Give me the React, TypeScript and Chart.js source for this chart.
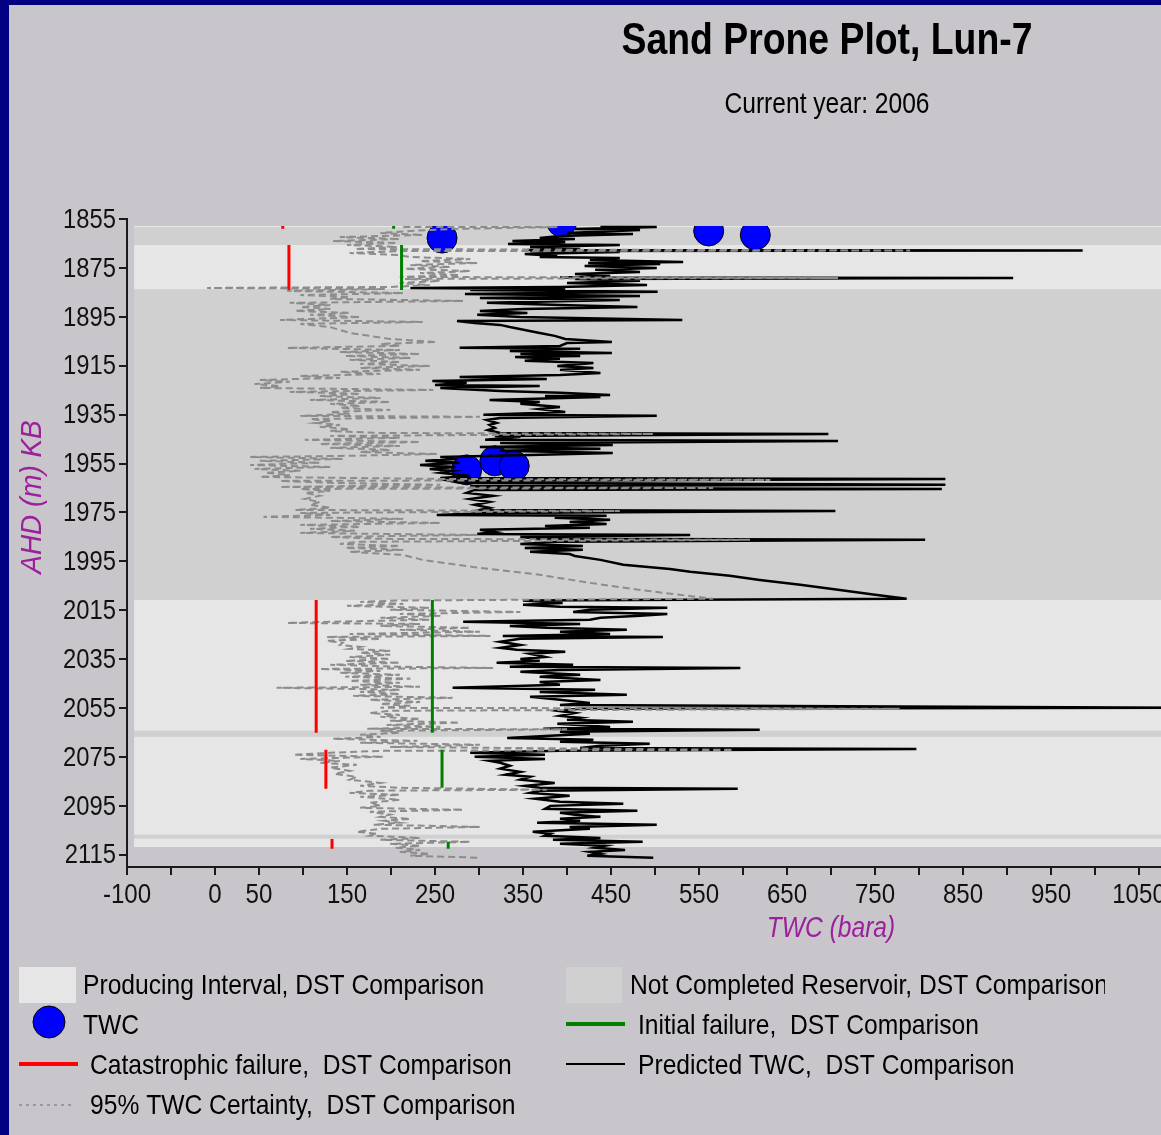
import React, { useEffect, useRef } from "react";
import { Chart, registerables } from "chart.js";

Chart.register(...registerables);

// ---------- text ----------
const chartTitle = "Sand Prone Plot, Lun-7";
const chartSubtitle = "Current year: 2006";
const xAxisTitle = "TWC (bara)";
const yAxisTitle = "AHD (m) KB";
const labelProducing = "Producing Interval, DST Comparison";
const labelNotCompleted = "Not Completed Reservoir, DST Comparison";
const labelTWC = "TWC";
const labelInitial = "Initial failure,  DST Comparison";
const labelCatastrophic = "Catastrophic failure,  DST Comparison";
const labelPredicted = "Predicted TWC,  DST Comparison";
const labelCertainty = "95% TWC Certainty,  DST Comparison";

// ---------- ticks ----------
const xTickValues = [-100, -50, 0, 50, 100, 150, 200, 250, 300, 350, 400, 450, 500, 550, 600, 650, 700, 750, 800, 850, 900, 950, 1000, 1050, 1100, 1150, 1200, 1250, 1300, 1350, 1400, 1450, 1500];
const xLabelValues = [-100, 0, 50, 150, 250, 350, 450, 550, 650, 750, 850, 950, 1050, 1150, 1250, 1350, 1450];
const yTickValues = [1855, 1875, 1895, 1915, 1935, 1955, 1975, 1995, 2015, 2035, 2055, 2075, 2095, 2115];

// ---------- zones (depth, m) ----------
const producingTop = [1857.9, 1865.6, 2010.8, 2066.7, 2108.3];
const producingBase = [1858.4, 1883.7, 2064.3, 2106.8, 2111.8];
const notCompletedTop = [1858.4, 1883.7, 2064.3, 2106.8];
const notCompletedBase = [1865.6, 2010.8, 2066.7, 2108.3];
const zoneTWCFrom = -92;
const zoneTWCTo = 1500;

// ---------- failure limits ----------
const catastrophicTWC = [77, 84, 115, 126, 133];
const catastrophicTop = [1857.9, 1865.6, 2010.8, 2072.1, 2108.5];
const catastrophicBase = [1859.0, 1884.0, 2065.1, 2088.0, 2112.5];
const initialTWC = [203, 212, 247, 258, 265];
const initialTop = [1857.9, 1865.6, 2010.8, 2072.1, 2109.7];
const initialBase = [1859.0, 1884.0, 2065.1, 2087.6, 2112.5];

// ---------- measured TWC ----------
const twcDepth = [1862.8, 1856.2, 1859.9, 1861.5, 1957.6, 1953.9, 1956.0];
const twcValue = [258, 394, 561, 614, 286, 318, 340];

// ---------- predicted TWC ----------
const predDepth = [
  1858.3, 1858.3, 1859.1, 1859.5, 1860.7, 1861.1, 1862.0, 1862.8, 1863.2, 1864.0,
  1864.4, 1865.2, 1865.6, 1866.4, 1867.3, 1867.7, 1867.9, 1868.1, 1868.5, 1869.3,
  1870.1, 1870.5, 1870.9, 1871.8, 1872.6, 1873.0, 1873.4, 1874.2, 1875.0, 1875.8,
  1876.7, 1877.5, 1878.3, 1878.9, 1879.1, 1879.5, 1880.3, 1881.2, 1882.0, 1882.8,
  1883.2, 1883.6, 1884.0, 1884.8, 1885.7, 1886.5, 1887.3, 1888.1, 1889.3, 1890.2,
  1891.0, 1891.8, 1892.6, 1893.4, 1894.2, 1895.1, 1896.3, 1896.7, 1897.5, 1898.3,
  1899.2, 1900.4, 1901.6, 1902.8, 1904.1, 1905.3, 1905.7, 1906.9, 1907.7, 1908.1,
  1909.0, 1909.8, 1910.2, 1911.0, 1911.4, 1912.2, 1913.0, 1913.9, 1915.1, 1915.9,
  1916.7, 1918.0, 1918.8, 1919.6, 1920.4, 1921.2, 1922.0, 1922.9, 1923.3, 1924.1,
  1925.3, 1926.1, 1927.0, 1927.4, 1927.8, 1929.0, 1929.8, 1930.6, 1931.9, 1932.7,
  1933.9, 1935.1, 1935.5, 1936.4, 1937.2, 1938.4, 1939.2, 1940.4, 1941.3, 1942.5,
  1942.9, 1943.7, 1944.1, 1945.3, 1945.8, 1946.6, 1947.4, 1948.2, 1949.0, 1949.8,
  1950.7, 1951.5, 1952.3, 1953.1, 1953.9, 1954.7, 1955.6, 1956.4, 1957.2, 1958.0,
  1958.8, 1960.1, 1960.9, 1961.3, 1962.1, 1962.9, 1963.7, 1964.2, 1965.0, 1965.4,
  1965.8, 1967.0, 1968.2, 1969.5, 1970.7, 1971.9, 1973.1, 1974.0, 1974.4, 1975.2,
  1976.0, 1976.4, 1977.2, 1978.0, 1978.9, 1979.7, 1980.5, 1981.3, 1982.1, 1983.0,
  1983.8, 1984.2, 1985.0, 1985.8, 1986.2, 1987.0, 1987.9, 1988.7, 1989.5, 1990.3,
  1991.1, 1992.0, 1992.8, 1994.4, 1996.4, 1998.1, 1999.3, 2000.9, 2002.6, 2004.6,
  2006.7, 2008.7, 2010.3, 2011.0, 2012.0, 2012.8, 2013.6, 2014.0, 2014.8, 2015.7,
  2016.5, 2017.3, 2018.1, 2018.9, 2019.7, 2020.6, 2021.4, 2022.2, 2023.0, 2023.8,
  2024.7, 2025.5, 2025.9, 2026.7, 2027.9, 2029.2, 2030.4, 2031.2, 2032.0, 2032.8,
  2034.1, 2034.9, 2035.7, 2036.5, 2037.3, 2038.1, 2038.6, 2039.4, 2040.2, 2041.4,
  2042.2, 2043.5, 2044.3, 2045.5, 2046.7, 2047.5, 2048.4, 2049.6, 2050.4, 2051.6,
  2052.9, 2053.7, 2054.9, 2055.3, 2056.1, 2057.0, 2058.2, 2059.0, 2059.8, 2060.6,
  2061.4, 2062.7, 2063.5, 2063.9, 2064.7, 2065.5, 2066.4, 2067.2, 2068.0, 2068.8,
  2069.6, 2070.4, 2071.3, 2071.7, 2072.5, 2073.3, 2074.1, 2074.9, 2075.8, 2076.6,
  2077.4, 2078.6, 2079.8, 2081.1, 2082.3, 2083.1, 2084.3, 2085.6, 2086.8, 2087.6,
  2088.0, 2088.8, 2089.7, 2090.9, 2092.1, 2093.3, 2094.1, 2095.0, 2096.2, 2097.0,
  2097.8, 2098.6, 2099.5, 2100.3, 2101.1, 2101.9, 2102.7, 2103.6, 2104.4, 2105.6,
  2106.4, 2107.2, 2108.1, 2108.9, 2109.7, 2110.5, 2111.3, 2112.1, 2113.0, 2113.8,
  2114.6, 2115.4, 2116.2,
];
const predTWC = [
  438, 502, 409, 483, 400, 475, 392, 369, 409, 338,
  398, 333, 460, 358, 415, 355, 986, 358, 460, 352,
  389, 369, 460, 426, 532, 424, 506, 420, 502, 432,
  483, 409, 449, 392, 907, 409, 483, 400, 491, 392,
  222, 398, 290, 503, 284, 483, 301, 460, 309, 392,
  480, 350, 301, 355, 298, 347, 531, 275, 295, 324,
  335, 352, 369, 386, 398, 451, 400, 392, 278, 415,
  335, 451, 347, 415, 341, 392, 352, 430, 389, 430,
  392, 438, 392, 278, 377, 247, 286, 250, 369, 256,
  324, 392, 449, 375, 438, 312, 369, 347, 392, 369,
  398, 305, 502, 324, 309, 320, 312, 318, 310, 324,
  697, 318, 347, 307, 708, 324, 452, 301, 438, 324,
  452, 358, 256, 275, 239, 278, 233, 273, 244, 270,
  256, 290, 256, 830, 267, 278, 830, 290, 324, 826,
  295, 286, 316, 290, 312, 295, 312, 301, 705, 312,
  252, 445, 386, 449, 403, 445, 375, 426, 301, 318,
  298, 540, 347, 369, 807, 392, 347, 418, 352, 418,
  358, 403, 409, 438, 464, 517, 540, 585, 619, 665,
  710, 750, 786, 350, 395, 350, 392, 514, 426, 407,
  514, 483, 438, 426, 282, 415, 335, 377, 468, 392,
  449, 327, 509, 347, 324, 347, 324, 343, 398, 358,
  375, 347, 369, 320, 407, 335, 597, 392, 347, 415,
  369, 438, 369, 392, 270, 432, 369, 468, 358, 392,
  426, 392, 1100, 415, 389, 409, 392, 415, 400, 475,
  389, 449, 373, 619, 392, 426, 375, 332, 430, 392,
  494, 438, 415, 797, 392, 290, 375, 295, 375, 312,
  324, 335, 324, 347, 330, 358, 347, 386, 352, 369,
  594, 369, 358, 403, 364, 392, 464, 381, 375, 480,
  392, 409, 438, 392, 415, 366, 502, 403, 426, 361,
  381, 375, 438, 384, 486, 392, 443, 432, 466, 426,
  438, 423, 498,
];

// ---------- 95% TWC certainty ----------
const certDepth = [
  1858.3, 1858.3, 1859.1, 1859.9, 1860.7, 1861.5, 1862.4, 1863.2, 1864.0, 1864.8,
  1865.6, 1866.4, 1867.3, 1867.9, 1868.1, 1868.9, 1869.7, 1870.5, 1871.4, 1872.2,
  1873.0, 1873.8, 1874.6, 1875.4, 1876.3, 1877.1, 1877.9, 1878.7, 1879.1, 1879.5,
  1880.3, 1881.2, 1882.0, 1882.8, 1883.2, 1883.6, 1884.4, 1885.3, 1886.1, 1886.9,
  1887.7, 1888.5, 1889.3, 1890.2, 1891.0, 1891.8, 1892.6, 1893.4, 1894.2, 1895.1,
  1896.3, 1897.1, 1897.9, 1899.2, 1900.4, 1901.6, 1902.8, 1904.1, 1905.3, 1906.1,
  1906.9, 1907.7, 1908.6, 1909.4, 1910.2, 1911.0, 1911.8, 1912.6, 1913.5, 1914.3,
  1915.1, 1915.9, 1916.7, 1917.5, 1918.4, 1919.2, 1920.0, 1920.8, 1921.6, 1922.5,
  1923.3, 1924.1, 1924.9, 1925.7, 1926.5, 1927.4, 1928.2, 1929.0, 1929.8, 1930.6,
  1931.4, 1932.3, 1933.1, 1933.9, 1934.7, 1935.5, 1935.9, 1936.8, 1937.6, 1938.4,
  1939.2, 1940.0, 1940.9, 1941.7, 1942.5, 1942.9, 1943.7, 1944.5, 1945.3, 1946.2,
  1947.0, 1947.8, 1948.6, 1949.4, 1950.3, 1951.1, 1951.9, 1952.3, 1953.1, 1953.9,
  1954.7, 1955.6, 1956.4, 1957.2, 1958.0, 1958.8, 1959.7, 1960.5, 1961.3, 1961.7,
  1962.1, 1962.9, 1963.7, 1964.6, 1965.0, 1965.4, 1966.2, 1967.0, 1968.2, 1969.5,
  1970.7, 1971.9, 1973.1, 1974.0, 1974.4, 1975.2, 1976.0, 1976.8, 1977.6, 1978.5,
  1979.3, 1980.1, 1980.9, 1981.7, 1982.5, 1983.4, 1984.2, 1985.0, 1985.8, 1986.2,
  1987.0, 1987.9, 1988.7, 1989.5, 1990.3, 1991.1, 1992.4, 1994.4, 1997.3, 2000.5,
  2003.8, 2006.7, 2008.7, 2010.3, 2011.0, 2011.6, 2012.4, 2013.2, 2014.0, 2014.8,
  2015.7, 2016.5, 2017.3, 2018.1, 2018.9, 2019.7, 2020.2, 2020.6, 2021.4, 2022.2,
  2023.0, 2023.8, 2024.7, 2025.5, 2025.9, 2026.7, 2027.5, 2028.3, 2029.2, 2030.0,
  2030.8, 2031.6, 2032.4, 2033.2, 2034.1, 2034.9, 2035.7, 2036.5, 2037.3, 2038.1,
  2038.6, 2039.0, 2039.8, 2040.6, 2041.4, 2042.2, 2043.0, 2043.9, 2044.7, 2045.5,
  2046.3, 2046.7, 2047.5, 2048.4, 2049.2, 2050.0, 2050.8, 2051.6, 2052.5, 2053.3,
  2054.1, 2054.9, 2055.3, 2056.1, 2057.0, 2057.8, 2058.6, 2059.4, 2060.2, 2061.0,
  2061.9, 2062.7, 2063.5, 2063.7, 2064.3, 2065.1, 2065.9, 2066.8, 2067.6, 2068.4,
  2069.2, 2070.0, 2070.9, 2072.1, 2072.5, 2073.3, 2074.1, 2074.9, 2075.8, 2076.6,
  2077.4, 2078.2, 2079.4, 2080.7, 2081.9, 2083.1, 2084.3, 2085.6, 2086.8, 2087.6,
  2088.4, 2088.8, 2089.7, 2090.5, 2091.3, 2092.5, 2093.7, 2095.0, 2095.8, 2096.6,
  2097.4, 2098.6, 2099.5, 2100.3, 2101.1, 2101.9, 2102.7, 2103.6, 2104.4, 2105.6,
  2106.4, 2107.2, 2108.1, 2108.9, 2109.7, 2110.5, 2111.3, 2112.1, 2113.0, 2113.8,
  2114.6, 2115.4, 2116.2,
];
const certTWC = [
  214, 389, 267, 222, 188, 236, 142, 210, 134, 207,
  150, 207, 159, 790, 214, 153, 207, 222, 290, 233,
  298, 222, 267, 216, 290, 233, 278, 210, 708, 216,
  256, 210, 244, 199, -9, 193, 82, 214, 97, 153,
  131, 282, 85, 131, 97, 131, 91, 153, 108, 165,
  74, 236, 97, 131, 142, 153, 176, 199, 252, 188,
  210, 82, 210, 142, 233, 148, 222, 153, 210, 165,
  244, 165, 233, 142, 188, 97, 142, 51, 85, 45,
  74, 51, 248, 85, 165, 119, 188, 108, 199, 131,
  165, 142, 199, 131, 153, 97, 301, 108, 131, 114,
  142, 119, 153, 131, 188, 498, 131, 210, 102, 233,
  119, 210, 131, 199, 165, 252, 142, 40, 145, 51,
  119, 40, 131, 45, 97, 57, 85, 51, 259, 631,
  74, 131, 256, 74, 566, 97, 131, 102, 119, 102,
  119, 108, 131, 91, 460, 97, 131, 55, 214, 131,
  256, 97, 165, 108, 159, 97, 298, 131, 188, 608,
  165, 142, 210, 148, 214, 153, 214, 236, 293, 369,
  426, 483, 528, 566, 207, 165, 214, 150, 244, 199,
  347, 210, 256, 188, 244, 131, 82, 233, 188, 290,
  210, 301, 153, 313, 127, 188, 127, 145, 142, 165,
  153, 199, 165, 199, 153, 199, 148, 210, 131, 210,
  316, 119, 188, 142, 210, 148, 222, 153, 210, 165,
  233, 70, 210, 165, 210, 157, 270, 176, 233, 188,
  222, 188, 778, 199, 176, 210, 188, 233, 199, 278,
  195, 256, 173, 400, 188, 210, 165, 188, 134, 230,
  165, 301, 199, 589, 188, 131, 89, 191, 97, 142,
  119, 161, 131, 153, 136, 161, 153, 188, 165, 210,
  377, 176, 153, 210, 165, 210, 176, 188, 165, 282,
  176, 199, 188, 222, 193, 210, 180, 301, 188, 161,
  184, 176, 233, 188, 290, 199, 233, 205, 233, 210,
  244, 222, 301,
];

// ---------- styles ----------
const SANS = '"Liberation Sans", Arial, sans-serif';
const PURPLE = "#9c1f9c";
const NAVY = "#000080";
const PANEL = "#c8c6ca";
const PRODUCING = "#e6e6e6";
const NOT_COMPLETED = "#d0d0d0";
const RED = "#ff0000";
const GREEN = "#008000";
const BLUE = "#0000ff";
const GREY_LINE = "#8c8c8c";
const AXIS = "#1a1a1a";

const CANVAS_W = 1636;
const CANVAS_H = 1130;

const pairs = (xs: number[], ys: number[]) => xs.map((x, i) => ({ x, y: ys[i] }));
const segments = (xs: number[], tops: number[], bases: number[]) =>
  xs.flatMap((x, i) => [
    { x, y: tops[i] },
    { x, y: bases[i] },
    { x: null as any, y: null as any },
  ]);
const zone = (top: number, base: number) => [
  { x: zoneTWCFrom, y: top },
  { x: zoneTWCTo, y: top },
  { x: zoneTWCTo, y: base },
  { x: zoneTWCFrom, y: base },
  { x: zoneTWCFrom, y: top },
];

const zoneDataset = (top: number, base: number, color: string, label: string) => ({
  label,
  data: zone(top, base),
  fill: "shape",
  backgroundColor: color,
  borderColor: "rgba(0,0,0,0)",
  borderWidth: 0,
  pointRadius: 0,
  order: 20,
});

// condensed text helper (the source uses a narrow face)
function drawText(
  ctx: CanvasRenderingContext2D,
  text: string,
  x: number,
  y: number,
  font: string,
  color: string,
  align: CanvasTextAlign,
  sx: number,
  rotate = 0
) {
  ctx.save();
  ctx.translate(x, y);
  if (rotate) ctx.rotate(rotate);
  ctx.scale(sx, 1);
  ctx.font = font;
  ctx.fillStyle = color;
  ctx.textAlign = align;
  ctx.textBaseline = "middle";
  ctx.fillText(text, 0, 0);
  ctx.restore();
}

const textPlugin = {
  id: "sandTexts",
  afterDraw(chart: any) {
    const ctx = chart.ctx as CanvasRenderingContext2D;
    const area = chart.chartArea;
    const xs = chart.scales.x;
    const ys = chart.scales.y;
    const cx = chart.width / 2;

    drawText(ctx, chartTitle, cx, 37, `bold 45px ${SANS}`, "#000", "center", 0.83);
    drawText(ctx, chartSubtitle, cx, 100, `30px ${SANS}`, "#000", "center", 0.82);

    for (const v of yTickValues) {
      drawText(ctx, String(v), area.left - 11, ys.getPixelForValue(v) + 1, `28px ${SANS}`, "#111", "right", 0.85);
    }
    for (const v of xLabelValues) {
      drawText(ctx, String(v), xs.getPixelForValue(v), area.bottom + 28, `28px ${SANS}`, "#111", "center", 0.86);
    }
    drawText(ctx, xAxisTitle, (area.left + area.right) / 2, 924, `italic 30px ${SANS}`, PURPLE, "center", 0.82);
    drawText(ctx, yAxisTitle, 24, 492, `italic 30px ${SANS}`, PURPLE, "center", 0.93, -Math.PI / 2);
  },
};

const legendPlugin = {
  id: "sandLegend",
  afterDraw(chart: any) {
    const ctx = chart.ctx as CanvasRenderingContext2D;
    const LF = `28px ${SANS}`;
    const LS = 0.88;
    ctx.save();

    const hline = (x0: number, x1: number, y: number, color: string, w: number, dash: number[] = []) => {
      ctx.save();
      ctx.beginPath();
      ctx.setLineDash(dash);
      ctx.strokeStyle = color;
      ctx.lineWidth = w;
      ctx.moveTo(x0, y);
      ctx.lineTo(x1, y);
      ctx.stroke();
      ctx.restore();
    };

    // row 1
    ctx.fillStyle = PRODUCING;
    ctx.fillRect(10, 962, 57, 36);
    ctx.fillStyle = NOT_COMPLETED;
    ctx.fillRect(557, 962, 56, 36);
    drawText(ctx, labelProducing, 74, 981, LF, "#000", "left", LS);
    ctx.save();
    ctx.beginPath();
    ctx.rect(600, 940, 496, 70);
    ctx.clip();
    drawText(ctx, labelNotCompleted, 621, 981, LF, "#000", "left", LS);
    ctx.restore();

    // row 2
    ctx.beginPath();
    ctx.ellipse(40, 1017, 16, 16, 0, 0, Math.PI * 2);
    ctx.fillStyle = BLUE;
    ctx.fill();
    ctx.lineWidth = 1;
    ctx.strokeStyle = "#000";
    ctx.stroke();
    drawText(ctx, labelTWC, 74, 1021, LF, "#000", "left", LS);
    hline(557, 616, 1019, GREEN, 4);
    drawText(ctx, labelInitial, 629, 1021, LF, "#000", "left", LS);

    // row 3
    hline(10, 69, 1059, RED, 4);
    drawText(ctx, labelCatastrophic, 81, 1061, LF, "#000", "left", LS);
    hline(557, 616, 1059, "#000", 2);
    drawText(ctx, labelPredicted, 629, 1061, LF, "#000", "left", LS);

    // row 4
    hline(10, 63, 1100, "#9a9a9a", 2, [3, 4]);
    drawText(ctx, labelCertainty, 81, 1101, LF, "#000", "left", LS);
    ctx.restore();
  },
};

export default function App() {
  const ref = useRef<HTMLCanvasElement | null>(null);

  useEffect(() => {
    const canvas = ref.current;
    if (!canvas) return;

    const datasets: any[] = [
      {
        label: labelInitial,
        data: segments(initialTWC, initialTop, initialBase),
        borderColor: GREEN,
        borderWidth: 3,
        pointRadius: 0,
        spanGaps: false,
        fill: false,
        order: 1,
      },
      {
        label: labelCatastrophic,
        data: segments(catastrophicTWC, catastrophicTop, catastrophicBase),
        borderColor: RED,
        borderWidth: 3,
        pointRadius: 0,
        spanGaps: false,
        fill: false,
        order: 2,
      },
      {
        label: labelCertainty,
        data: pairs(certTWC, certDepth),
        borderColor: GREY_LINE,
        borderWidth: 2,
        borderDash: [7, 4],
        pointRadius: 0,
        tension: 0,
        fill: false,
        order: 3,
      },
      {
        label: labelPredicted,
        data: pairs(predTWC, predDepth),
        borderColor: "#000",
        borderWidth: 2.5,
        pointRadius: 0,
        tension: 0,
        fill: false,
        order: 4,
      },
      {
        label: labelTWC,
        data: pairs(twcValue, twcDepth),
        showLine: false,
        pointStyle: "circle",
        pointRadius: 15,
        pointBackgroundColor: BLUE,
        pointBorderColor: "#000",
        pointBorderWidth: 1,
        fill: false,
        clip: { left: 20, top: -7, right: 20, bottom: 20 },
        order: 5,
      },
      ...producingTop.map((t, i) => zoneDataset(t, producingBase[i], PRODUCING, labelProducing)),
      ...notCompletedTop.map((t, i) => zoneDataset(t, notCompletedBase[i], NOT_COMPLETED, labelNotCompleted)),
    ];

    const chart = new Chart(canvas, {
      type: "line",
      data: { datasets },
      options: {
        responsive: false,
        animation: false,
        devicePixelRatio: 1,
        events: [],
        layout: { padding: { left: 0, right: 110, top: 214, bottom: 168 } },
        plugins: {
          legend: { display: false },
          tooltip: { enabled: false },
          title: { display: false },
          subtitle: { display: false },
        },
        scales: {
          x: {
            type: "linear",
            min: -100,
            max: 1500,
            afterBuildTicks: (scale: any) => {
              scale.ticks = xTickValues.map((value) => ({ value }));
            },
            afterFit: (scale: any) => {
              scale.height = 100;
            },
            ticks: { display: false, autoSkip: false },
            grid: { drawOnChartArea: false, drawTicks: true, tickLength: 8, color: AXIS, lineWidth: 2 },
            border: { display: true, color: AXIS, width: 2 },
            title: { display: false },
          },
          y: {
            type: "linear",
            reverse: true,
            min: 1855,
            max: 2120,
            afterBuildTicks: (scale: any) => {
              scale.ticks = yTickValues.map((value) => ({ value }));
            },
            afterFit: (scale: any) => {
              scale.width = 118;
            },
            ticks: { display: false, autoSkip: false },
            grid: { drawOnChartArea: false, drawTicks: true, tickLength: 8, color: AXIS, lineWidth: 2 },
            border: { display: true, color: AXIS, width: 2 },
            title: { display: false },
          },
        },
      } as any,
      plugins: [textPlugin, legendPlugin],
    });

    return () => chart.destroy();
  }, []);

  return (
    <div
      style={{
        position: "fixed",
        left: 0,
        top: 0,
        width: 1161,
        height: 1135,
        overflow: "hidden",
        background: NAVY,
      }}
    >
      <div
        style={{
          position: "absolute",
          left: 9,
          top: 5,
          width: CANVAS_W,
          height: CANVAS_H,
          background: PANEL,
        }}
      >
        <canvas
          ref={ref}
          width={CANVAS_W}
          height={CANVAS_H}
          style={{ display: "block", width: CANVAS_W, height: CANVAS_H }}
        />
      </div>
    </div>
  );
}
